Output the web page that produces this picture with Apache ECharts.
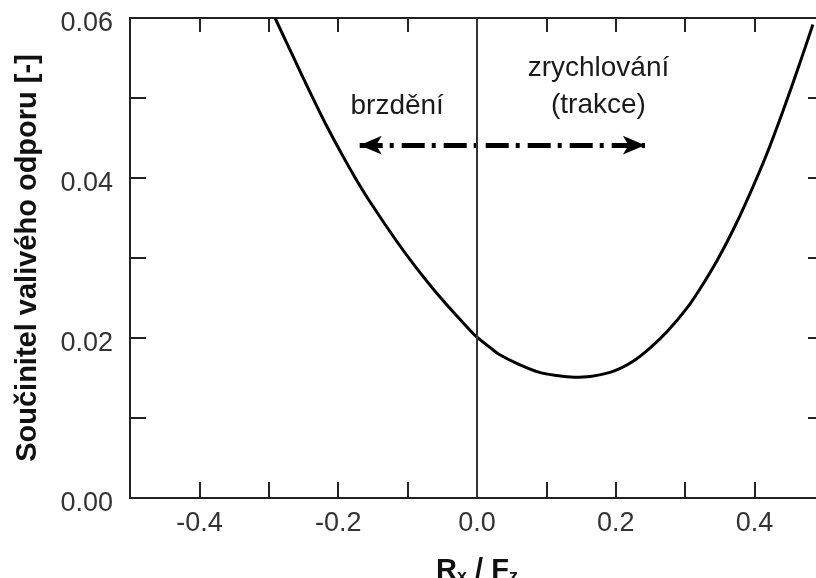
<!DOCTYPE html>
<html>
<head>
<meta charset="utf-8">
<script src="https://cdn.jsdelivr.net/npm/echarts@6/dist/echarts.min.js"></script>
<style>
  html, body { margin: 0; padding: 0; background: #fff; }
  #chart { width: 816px; height: 578px; }
</style>
</head>
<body>
<div id="chart"></div>
<script>
// curve
var rxFz = [-0.291, -0.265, -0.241, -0.216, -0.193, -0.176, -0.154, -0.115, -0.086, -0.058,
            -0.020, 0.0, 0.019, 0.031, 0.058, 0.090, 0.115, 0.140, 0.163, 0.195,
            0.225, 0.250, 0.274, 0.303, 0.321, 0.346, 0.369, 0.389, 0.418, 0.441, 0.465, 0.484]
var coef = [0.0600, 0.0552, 0.0508, 0.0464, 0.0427, 0.0401, 0.0370, 0.0320, 0.0286, 0.0256,
            0.0219, 0.0201, 0.0188, 0.0180, 0.0168, 0.0157, 0.0153, 0.0151, 0.0152, 0.0158,
            0.0171, 0.0188, 0.0208, 0.0238, 0.0261, 0.0297, 0.0335, 0.0372, 0.0431, 0.0484, 0.0543, 0.0592]

// annotations (data coordinates)
var noteText = ["brzdění", "zrychlování\n(trakce)"]
var notePos = [[-0.115, 0.0490], [0.175, 0.0514]]
var arrowFrom = [-0.169, 0.0441]
var arrowTo = [0.242, 0.0441]

var font = "Liberation Sans, Arial, sans-serif"

var curveData = rxFz.map(function (x, i) { return [x, coef[i]] })

var chart = echarts.init(document.getElementById("chart"))
chart.setOption({
  animation: false,
  backgroundColor: "#fff",
  grid: {left: 130, top: 18, right: -8, bottom: 80, containLabel: false, outerBoundsMode: "none"},
  xAxis: [
    {
      type: "value", min: -0.5, max: 0.5, interval: 0.1, position: "bottom",
      name: "{r|R}{s|x}{r| / F}{s|z}",
      nameLocation: "middle", nameGap: 58,
      nameTextStyle: {
        rich: {
          r: {fontFamily: font, fontSize: 29, fontWeight: "bold", color: "#111"},
          s: {fontFamily: font, fontSize: 18, fontWeight: "bold", color: "#111", verticalAlign: "bottom", padding: [12, 0, 0, 0]}
        }
      },
      axisLine: {onZero: false, lineStyle: {color: "#222", width: 2}},
      axisTick: {inside: true, length: 16, lineStyle: {color: "#222", width: 2}},
      axisLabel: {
        fontFamily: font, fontSize: 27, color: "#333", margin: 12,
        formatter: function (v) {
          var k = Math.round(v * 10)
          return k % 2 === 0 ? (k / 10).toFixed(1) : ""
        }
      },
      splitLine: {show: false}
    },
    {
      type: "value", min: -0.5, max: 0.5, interval: 0.1, position: "top",
      axisLine: {onZero: false, lineStyle: {color: "#222", width: 2}},
      axisTick: {inside: true, length: 14, lineStyle: {color: "#222", width: 2}},
      axisLabel: {show: false},
      splitLine: {show: false}
    }
  ],
  yAxis: [
    {
      type: "value", min: 0, max: 0.06, interval: 0.01, position: "left",
      name: "Součinitel valivého odporu [-]",
      nameLocation: "middle", nameGap: 88,
      nameTextStyle: {fontFamily: font, fontSize: 29, fontWeight: "bold", color: "#111"},
      axisLine: {onZero: false, lineStyle: {color: "#222", width: 2}},
      axisTick: {inside: true, length: 16, lineStyle: {color: "#222", width: 2}},
      axisLabel: {
        margin: 17,
        formatter: function (v) {
          var k = Math.round(v * 100)
          return k % 2 === 0 ? "{t|" + (k / 100).toFixed(2) + "}" : ""
        },
        rich: {
          t: {fontFamily: font, fontSize: 27, color: "#333", padding: [11, 0, 0, 0]}
        }
      },
      splitLine: {show: false}
    },
    {
      type: "value", min: 0, max: 0.06, interval: 0.01, position: "right",
      axisLine: {onZero: false, lineStyle: {color: "#222", width: 2}},
      axisTick: {inside: true, length: 16, lineStyle: {color: "#222", width: 2}},
      axisLabel: {show: false},
      splitLine: {show: false}
    }
  ],
  series: [
    {
      name: "odpor",
      type: "line",
      data: curveData,
      smooth: 0.3,
      symbol: "none",
      lineStyle: {color: "#000", width: 3},
      z: 3,
      markLine: {
        silent: true,
        symbol: ["arrow", "arrow"],
        symbolSize: [14, 22],
        label: {show: false},
        lineStyle: {color: "#000", width: 5, type: [23, 7, 4, 8], cap: "butt"},
        data: [[{coord: arrowFrom}, {coord: arrowTo}]]
      }
    },
    {
      name: "nula",
      type: "line",
      data: [],
      markLine: {
        silent: true,
        symbol: "none",
        label: {show: false},
        lineStyle: {color: "#333", width: 2, type: "solid"},
        data: [{xAxis: 0}]
      }
    }
  ]
})

// text notes placed through the axes
chart.setOption({
  graphic: noteText.map(function (t, i) {
    var p = chart.convertToPixel({gridIndex: 0}, notePos[i])
    return {
      type: "text", x: p[0], y: p[1], silent: true,
      style: {
        text: t, fill: "#1a1a1a", font: "28px " + font,
        align: "center", verticalAlign: "middle", lineHeight: 37
      }
    }
  })
})
</script>
</body>
</html>
